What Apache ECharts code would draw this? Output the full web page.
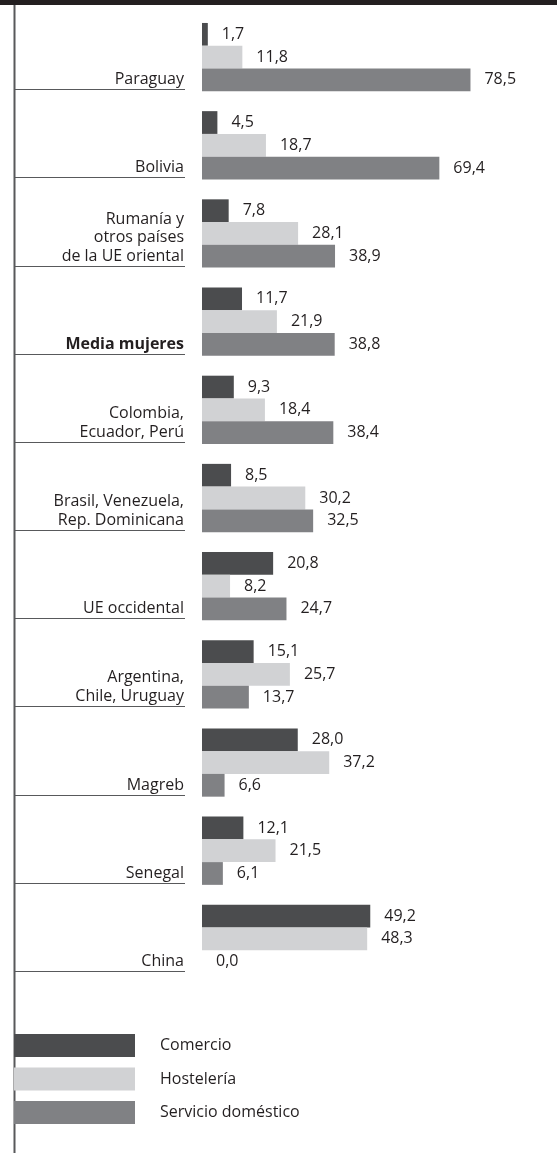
<!DOCTYPE html>
<html>
<head>
<meta charset="utf-8">
<script src="https://cdn.jsdelivr.net/npm/echarts@6/dist/echarts.min.js"></script>
<style>html,body{margin:0;padding:0;background:#fff;}#c{width:557px;height:1153px;}</style>
</head>
<body>
<div id="c"></div>
<script>
const categories = ['Paraguay','Bolivia','Rumanía y\notros países\nde la UE oriental','Media mujeres','Colombia,\nEcuador, Perú','Brasil, Venezuela,\nRep. Dominicana','UE occidental','Argentina,\nChile, Uruguay','Magreb','Senegal','China'];
const boldCategory = 'Media mujeres';
const seriesNames = ['Comercio','Hostelería','Servicio doméstico'];
const comercio = [1.7,4.5,7.8,11.7,9.3,8.5,20.8,15.1,28.0,12.1,49.2];
const hosteleria = [11.8,18.7,28.1,21.9,18.4,30.2,8.2,25.7,37.2,21.5,48.3];
const domestico = [78.5,69.4,38.9,38.8,38.4,32.5,24.7,13.7,6.6,6.1,0.0];

const colors = ['#4b4c4e','#d1d2d4','#808184'];
const FONT = '"Open Sans", sans-serif';
const FS = 16;
const GAP = 0.226;

const chart = echarts.init(document.getElementById('c'), null, {renderer:'canvas'});
const fmt = p => p.value.toFixed(1).replace('.', ',');
function barSeries(name, data, color){
  return {
    name, type:'bar', data, barGap:'0%', barCategoryGap:(GAP*100)+'%',
    itemStyle:{color}, silent:true,
    label:{show:true, position:'right', distance:14, formatter:fmt,
      fontFamily:FONT, fontSize:FS, color:'#231f20'}
  };
}
chart.setOption({
  animation:false,
  textStyle:{fontFamily:FONT},
  grid:{left:202, right:13, top:13, height:970},
  xAxis:{type:'value', min:0, max:100, show:false},
  yAxis:{type:'category', data:categories, inverse:true,
    axisLine:{show:false}, axisTick:{show:false}, axisLabel:{show:false}},
  legend:{
    data:seriesNames, orient:'vertical', left:14, top:1034, padding:0,
    itemWidth:121, itemHeight:23, itemGap:10.5, icon:'rect',
    textStyle:{fontFamily:FONT, fontSize:FS, color:'#231f20', padding:[0,0,0,20]},
    selectedMode:false
  },
  graphic:[
    {type:'rect', shape:{x:0,y:0,width:557,height:5}, style:{fill:'#231f20'}},
    {type:'line', shape:{x1:14.5,y1:5,x2:14.5,y2:1153}, style:{stroke:'#58595b', lineWidth:2}}
  ],
  series:[
    barSeries(seriesNames[0], comercio, colors[0]),
    barSeries(seriesNames[1], hosteleria, colors[1]),
    barSeries(seriesNames[2], domestico, colors[2]),
    {
      type:'custom', silent:true, clip:false,
      data: categories.map((c,i)=>[0,i]),
      encode:{x:0, y:1},
      renderItem:function(params, api){
        const idx = api.value(1);
        const center = api.coord([0, idx])[1];
        const band = api.size([0,1])[1];
        const bottom = Math.round(center + band*(1-GAP)/2) - 1.5;
        const name = categories[idx];
        return {type:'group', children:[
          {type:'line', shape:{x1:14, y1:bottom, x2:185, y2:bottom}, style:{stroke:'#58595b', lineWidth:1}},
          {type:'text', x:184, y:bottom-1, style:{
            text:name, align:'right', verticalAlign:'bottom', lineHeight:18.5,
            fontFamily:FONT, fontSize:FS, fill:'#231f20',
            fontWeight: name===boldCategory ? 'bold' : 'normal'}}
        ]};
      }
    }
  ]
});
</script>
</body>
</html>
